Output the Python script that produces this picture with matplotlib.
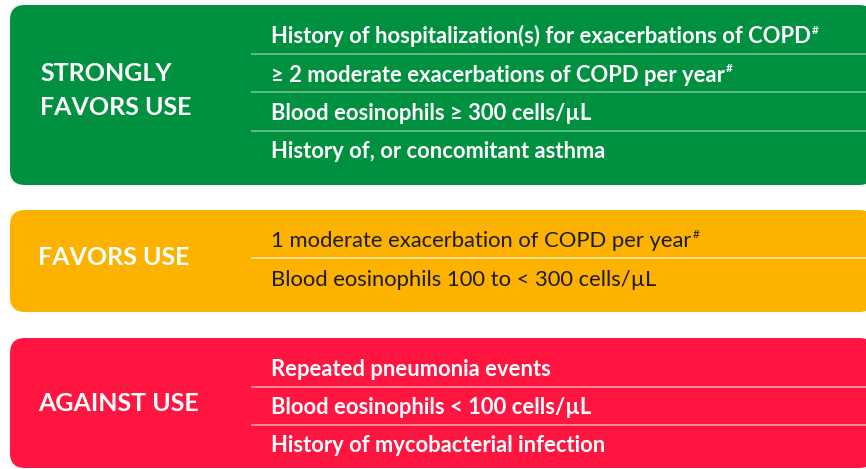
import matplotlib
matplotlib.use("Agg")
import matplotlib.pyplot as plt
from matplotlib.patches import FancyBboxPatch

# ---- content ----
green_label = ["STRONGLY", "FAVORS USE"]
green_items = [
    "History of hospitalization(s) for exacerbations of COPD",
    "\u2265 2 moderate exacerbations of COPD per year",
    "Blood eosinophils \u2265 300 cells/\u00b5L",
    "History of, or concomitant asthma",
]
green_marks = [True, True, False, False]

orange_label = ["FAVORS USE"]
orange_items = [
    "1 moderate exacerbation of COPD per year",
    "Blood eosinophils 100 to < 300 cells/\u00b5L",
]
orange_marks = [True, False]

red_label = ["AGAINST USE"]
red_items = [
    "Repeated pneumonia events",
    "Blood eosinophils < 100 cells/\u00b5L",
    "History of mycobacterial infection",
]
red_marks = [False, False, False]

# ---- layout (pixel units) ----
W, H = 866, 469
FONT = "Lato"

fig = plt.figure(figsize=(W / 100, H / 100), dpi=100)
ax = fig.add_axes([0, 0, 1, 1])
ax.set_xlim(0, W)
ax.set_ylim(H, 0)
ax.axis("off")


def panel(top, bottom, face, line_col, label, label_baselines, label_x,
          items, marks, baselines, seps, text_col, text_weight):
    box = FancyBboxPatch((10, top), 864, bottom - top,
                         boxstyle="round,pad=0,rounding_size=15",
                         facecolor=face, edgecolor="none")
    ax.add_patch(box)
    for s, b in zip(label, label_baselines):
        ax.text(label_x, b, s, color="white", fontsize=18, fontweight="bold",
                family=FONT, va="baseline", ha="left")
    for y in seps:
        ax.plot([251, 870], [y, y], color=line_col, lw=1.2, solid_capstyle="butt")
    fig.canvas.draw()
    r = fig.canvas.get_renderer()
    for s, m, b in zip(items, marks, baselines):
        t = ax.text(271, b, s, color=text_col, fontsize=15.8, fontweight=text_weight,
                    family=FONT, va="baseline", ha="left")
        if m:
            bb = t.get_window_extent(r)
            xe = ax.transData.inverted().transform((bb.x1, 0))[0]
            ax.text(xe + 1, b - 9, "#", color=text_col, fontsize=8.5,
                    fontweight=text_weight, family=FONT, va="baseline", ha="left")


panel(5, 185, "#009140", "#74c293", green_label, [81, 115], 40,
      green_items, green_marks, [43, 81.5, 120, 158.5], [54, 92.5, 131],
      "white", "bold")
panel(210, 312, "#fdb200", "#ffe7b0", orange_label, [265], 38,
      orange_items, orange_marks, [247, 286], [258.5],
      "#1c1c1c", "normal")
panel(338, 468, "#ff1540", "#ff9aae", red_label, [411], 38,
      red_items, red_marks, [376, 414, 452], [387, 425],
      "white", "bold")

fig.savefig("out.png", dpi=100)
